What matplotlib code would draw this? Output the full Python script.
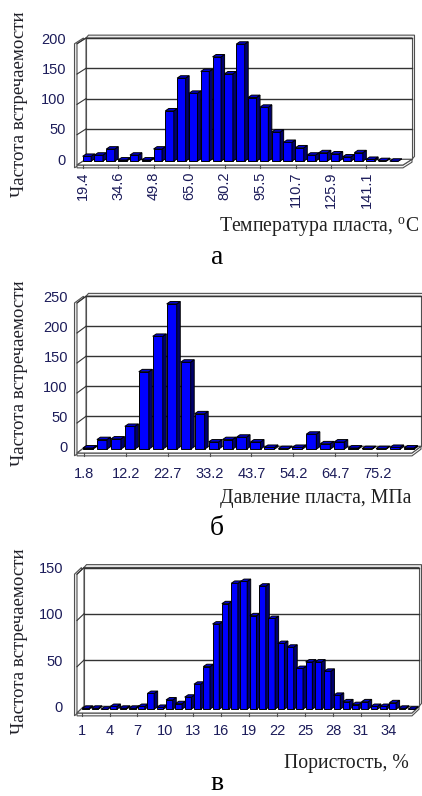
import matplotlib.pyplot as plt
from matplotlib.patches import Polygon

W, H = 422, 796

# panel а: reservoir temperature
temp_counts = [8, 10, 20, 2, 10, 2, 20, 83, 137, 112, 148, 172, 144, 193, 105,
               89, 48, 31, 22, 10, 14, 12, 7, 14, 3, 1, 0]
temp_labels = ["19.4", "34.6", "49.8", "65.0", "80.2", "95.5", "110.7", "125.9", "141.1"]
temp_yticks = [0, 50, 100, 150, 200]

# panel б: reservoir pressure
press_counts = [2, 16, 17, 38, 129, 188, 242, 145, 59, 12, 16, 20, 12, 3,
                1, 3, 25, 9, 12, 2, 1, 1, 3, 2]
press_labels = ["1.8", "12.2", "22.7", "33.2", "43.7", "54.2", "64.7", "75.2"]
press_yticks = [0, 50, 100, 150, 200, 250]

# panel в: porosity
poro_counts = [1, 1, 0, 3, 1, 1, 3, 17, 2, 10, 6, 13, 27, 46, 92, 114, 136, 138,
               101, 133, 98, 71, 67, 44, 51, 51, 41, 15, 8, 5, 8, 3, 3, 7, 1, 0]
poro_labels = ["1", "4", "7", "10", "13", "16", "19", "22", "25", "28", "31", "34"]
poro_yticks = [0, 50, 100, 150]

plt.rcParams['mathtext.fontset'] = 'custom'
plt.rcParams['mathtext.rm'] = 'Liberation Serif'

TICK_COLOR = '#1c1c5a'
EDGE = '#505050'

fig = plt.figure(figsize=(W / 100, H / 100), dpi=100)


def draw_panel(counts, labels, yticks, left, right, y0, scale, xmax, dx, dy,
               rot, xpad, ypad):
    ymax = yticks[-1]
    ax = fig.add_axes([left / W, (H - y0) / H, (right - left) / W, ymax * scale / H])
    ax.set_xlim(0, xmax)
    ax.set_ylim(0, ymax)
    ax.patch.set_visible(False)
    for s in ax.spines.values():
        s.set_visible(False)

    ux = (right - left) / xmax      # px per category
    uy = scale                      # px per count
    dxd, dyd = dx / ux, dy / uy
    tx, ty = 2.5 / ux, 3 / uy

    def poly(pts, fc, z, ec=EDGE, lw=0.8):
        ax.add_patch(Polygon(pts, closed=True, facecolor=fc, edgecolor=ec,
                             lw=lw, zorder=z, clip_on=False))

    # back wall with its thickness
    poly([(dxd, ymax + dyd), (dxd + tx, ymax + dyd + ty), (xmax + dxd + tx, ymax + dyd + ty),
          (xmax + dxd + tx, dyd + ty), (xmax + dxd, dyd), (xmax + dxd, ymax + dyd)], '#ececec', 1)
    poly([(dxd, dyd), (xmax + dxd, dyd), (xmax + dxd, ymax + dyd), (dxd, ymax + dyd)], 'white', 1.1)
    # left wall
    poly([(-tx, -ty), (dxd - tx, dyd - ty), (dxd - tx, ymax + dyd), (-tx, ymax)], '#ececec', 1.2)
    poly([(0, 0), (dxd, dyd), (dxd, ymax + dyd), (0, ymax)], 'white', 1.3)
    # floor
    poly([(0, -ty), (xmax, -ty), (xmax + dxd, dyd - ty), (xmax + dxd, dyd), (xmax, 0), (0, 0)],
         '#f4f4f4', 1.4)
    poly([(0, 0), (xmax, 0), (xmax + dxd, dyd), (dxd, dyd)], 'white', 1.5)

    # gridlines on back and left wall
    for v in yticks[1:]:
        ax.plot([dxd, xmax + dxd], [v + dyd, v + dyd], color='#333333', lw=1.0,
                zorder=1.6, clip_on=False)
        ax.plot([0, dxd], [v, v + dyd], color='#333333', lw=0.8, zorder=1.6, clip_on=False)

    # tick marks on floor front
    tick_pos = [i + 0.5 for i in range(0, len(counts), 3)][:len(labels)]
    for p in tick_pos:
        ax.plot([p, p], [0, -ty], color=EDGE, lw=0.8, zorder=1.7, clip_on=False)

    # 3d-looking bars
    bx, by = 4 / ux, 4 / uy
    sx, sy = 3.5 / ux, 2.5 / uy
    w = 0.72
    xs = [i + 0.5 + bx for i in range(len(counts))]
    bars = ax.bar(xs, counts, width=w, bottom=by, color='#0000ff',
                  edgecolor='black', lw=0.7)
    for k, (rect, v) in enumerate(zip(bars, counts)):
        z = 10 + 3 * k
        rect.set_zorder(z)
        rect.set_clip_on(False)
        xl = rect.get_x()
        xr = xl + w
        b = by
        poly([(xr, b), (xr + sx, b + sy), (xr + sx, b + v + sy), (xr, b + v)],
             '#00006e', z + 1, ec='black', lw=0.7)
        poly([(xl, b + v), (xr, b + v), (xr + sx, b + v + sy), (xl + sx, b + v + sy)],
             '#0000d8', z + 2, ec='black', lw=0.7)

    ax.set_xticks(tick_pos)
    ax.set_xticklabels(labels, rotation=rot, fontsize=10.5, family='Liberation Sans',
                       color=TICK_COLOR)
    ax.set_yticks([v + dyd for v in yticks])
    ax.set_yticklabels([str(v) for v in yticks], fontsize=10.5, family='Liberation Sans',
                       color=TICK_COLOR)
    ax.tick_params(axis='x', length=0, pad=xpad)
    ax.tick_params(axis='y', length=0, pad=ypad)
    return ax


draw_panel(temp_counts, temp_labels, temp_yticks, 77, 403, 165, 0.635, 27.6, 9, 6,
           90, 5, 8)
draw_panel(press_counts, press_labels, press_yticks, 77, 412, 453, 0.627, 24, 9, 7,
           0, 10, 6.5)
draw_panel(poro_counts, poro_labels, poro_yticks, 77, 412, 713, 0.97, 36, 7, 7,
           0, 8, 10)

serif = 'Liberation Serif'
ylab = 'Частота встречаемости'
for yc in [104, 373, 641]:
    fig.text(20 / W, 1 - yc / H, ylab, rotation=90, ha='center', va='center',
             fontsize=13.6, family=serif, color='#202028')

fig.text(419 / W, 1 - 232 / H, 'Температура пласта, $^{\\mathrm{o}}$C', ha='right',
         va='baseline', fontsize=14.2, family=serif, color='#202020')
fig.text(411 / W, 1 - 503 / H, 'Давление пласта, МПа', ha='right',
         va='baseline', fontsize=14.2, family=serif, color='#202020')
fig.text(409 / W, 1 - 768 / H, 'Пористость, %', ha='right',
         va='baseline', fontsize=14.2, family=serif, color='#202020')

for letter, yb in [('а', 264), ('б', 535), ('в', 790)]:
    fig.text(217 / W, 1 - yb / H, letter, ha='center', va='baseline', fontsize=20,
             family=serif, color='black')

fig.savefig('out.png', dpi=100)
